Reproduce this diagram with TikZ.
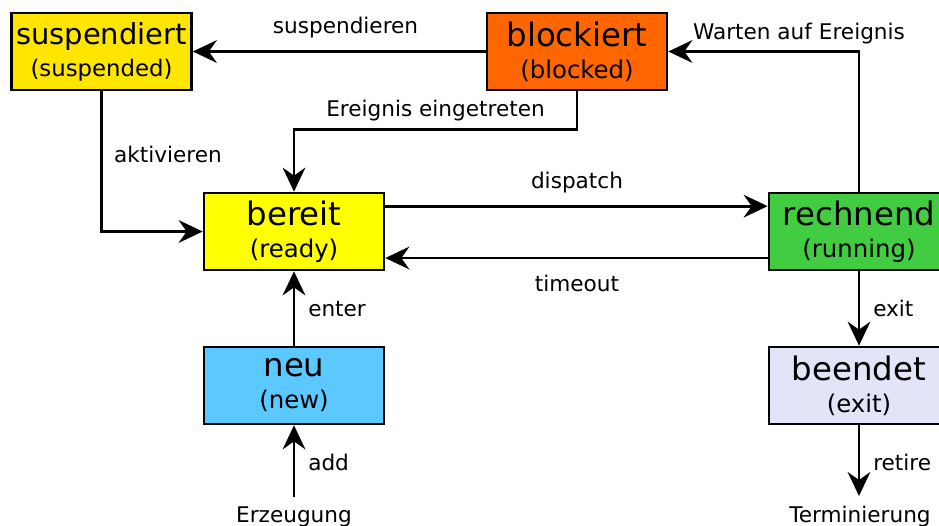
\documentclass[tikz,border=0pt]{standalone}
\usepackage{fontspec}
\setmainfont{DejaVu Sans}
\usetikzlibrary{arrows.meta}
\definecolor{suspcol}{HTML}{FFE600}
\definecolor{readycol}{HTML}{FFFF00}
\definecolor{blockcol}{HTML}{FF6600}
\definecolor{runcol}{HTML}{41CC41}
\definecolor{newcol}{HTML}{5BC8FF}
\definecolor{exitcol}{HTML}{E4E4F8}
\def\mainline#1{{\fontsize{24.3}{24}\selectfont #1}}
\tikzset{
  state/.style={draw, line width=2pt, minimum width=135pt, minimum height=57.75pt,
    align=center, inner sep=0pt, font=\fontsize{18.3}{24}\selectfont},
  arr/.style={line width=2pt, -{Stealth[length=18pt, width=17pt, inset=6pt]}},
  lbl/.style={font=\fontsize{16.2}{19}\selectfont, anchor=base, inner sep=0pt}
}

\begin{document}
\begin{tikzpicture}[x=0.75pt, y=-0.75pt]
			%%%%% START %%%%%
			\useasboundingbox (0, 0) rectangle (939, 525);
			
			\node[state, fill=suspcol, font=\fontsize{17.1}{24}\selectfont] (susp) at (101.5, 51.5) {{\fontsize{21.7}{24}\selectfont suspendiert}\\(suspended)};
			\node[state, fill=blockcol] (block) at (577, 51.5) {\mainline{blockiert}\\(blocked)};
			\node[state, fill=readycol] (ready) at (294, 231.5) {\mainline{bereit}\\(ready)};
			\node[state, fill=runcol] (run) at (859, 231.5) {\mainline{rechnend}\\(running)};
			\node[state, fill=newcol] (new) at (294, 385.5) {\mainline{neu}\\(new)};
			\node[state, fill=exitcol] (exit) at (859, 385.5) {\mainline{beendet}\\(exit)};
			
			\node[lbl, inner sep=7pt] (create) at (294, 522) {Erzeugung};
			\node[lbl, inner sep=7pt] (term) at (860, 522) {Terminierung};
			
			\draw[arr] (block.west) -- (susp.east);
			\draw[arr] (block.south) -- ++(0, 38) -| (ready.north);
			\draw[arr] (susp.south) |- (ready.west);
			\draw[arr] ([yshift=19pt]ready.east) -- ([yshift=19pt]run.west);
			\draw[arr] ([yshift=-19.9pt]run.west) -- ([yshift=-19.9pt]ready.east);
			\draw[arr] (run.north) |- (block.east);
			\draw[arr] (run.south) -- (exit.north);
			\draw[arr] (new.north) -- (ready.south);
			\draw[arr] (create.north) -- (new.south);
			\draw[arr] (exit.south) -- (term.north -| exit.south);
			
			\node[lbl] at (345.5, 33) {suspendieren};
			\node[lbl] at (435.5, 116.5) {Ereignis eingetreten};
			\node[lbl] at (168, 162) {aktivieren};
			\node[lbl] at (577, 188) {dispatch};
			\node[lbl] at (577, 291) {timeout};
			\node[lbl] at (799, 39) {Warten auf Ereignis};
			\node[lbl, anchor=base west] at (308, 316) {enter};
			\node[lbl, anchor=base west] at (873, 316) {exit};
			\node[lbl, anchor=base west] at (308, 470) {add};
			\node[lbl, anchor=base west] at (873, 470) {retire};
			
			%%%%% END %%%%%
\end{tikzpicture}
\end{document}
